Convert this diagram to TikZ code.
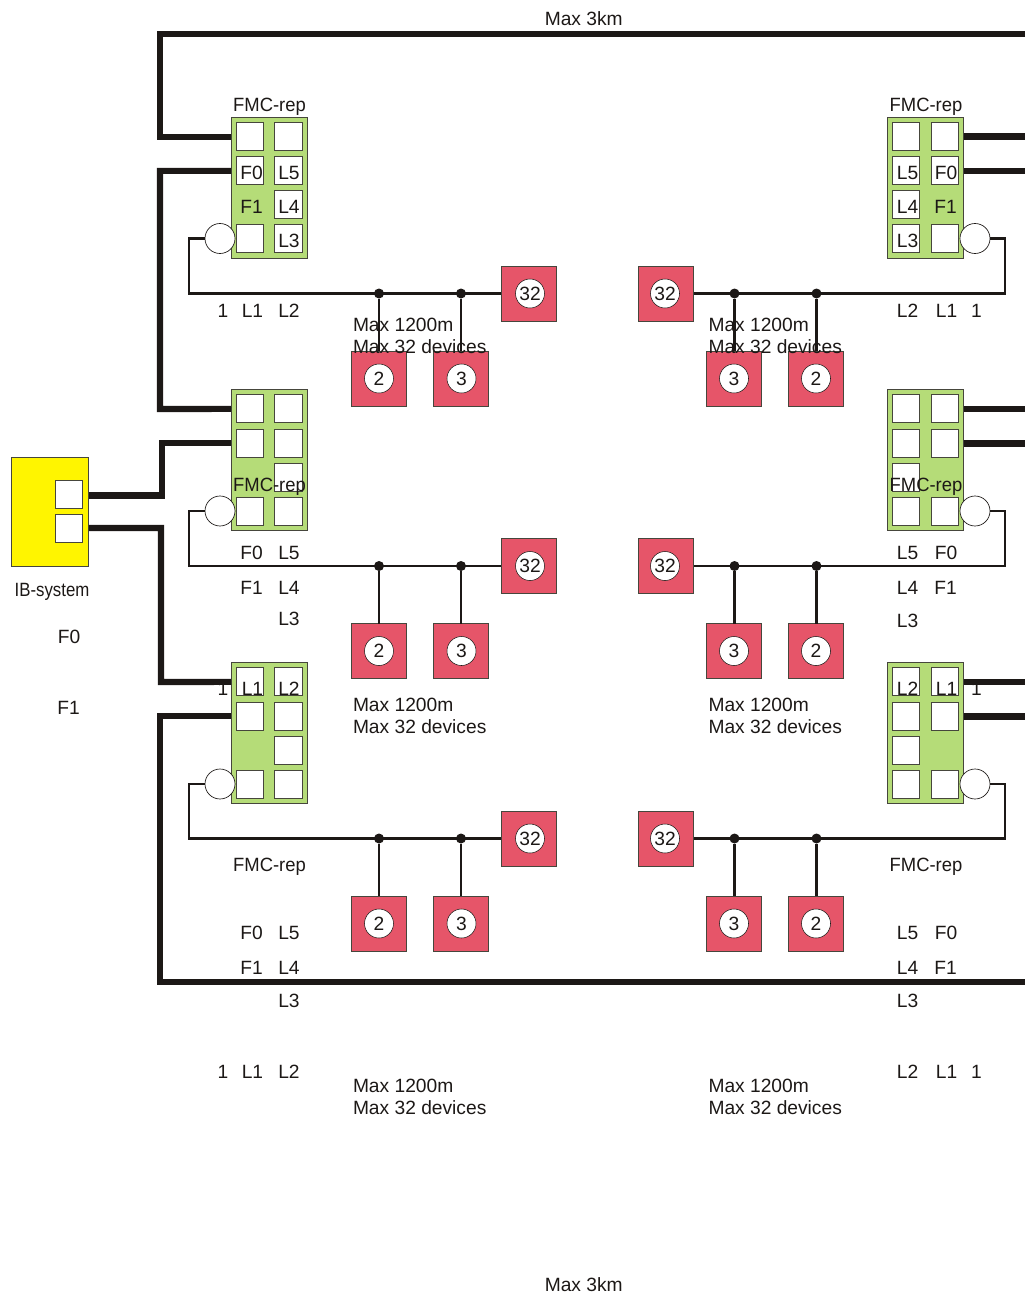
\documentclass[tikz,border=0pt]{standalone}
\usepackage{fontspec}
\setmainfont{Liberation Sans}
\definecolor{ink}{RGB}{28,24,22}
\definecolor{edge}{RGB}{70,70,60}
\definecolor{modgreen}{RGB}{181,220,120}
\definecolor{devred}{RGB}{230,85,105}
\definecolor{ibyellow}{RGB}{255,245,0}
\tikzset{
  module/.style={draw=edge,line width=0.7pt,fill=modgreen,minimum width=76*0.75pt,minimum height=141*0.75pt,inner sep=0,outer sep=0},
  cell/.style={draw=edge,line width=0.7pt,fill=white,minimum width=27.5*0.75pt,minimum height=28*0.75pt,inner sep=0,outer sep=0},
  port/.style={circle,draw=ink,line width=0.5pt,fill=white,minimum size=30*0.75pt,inner sep=0,outer sep=0},
  device/.style={draw=edge,line width=0.6pt,fill=devred,minimum size=55*0.75pt,inner sep=0,outer sep=0},
  devnum/.style={circle,draw=ink,line width=0.4pt,fill=white,minimum size=29*0.75pt,inner sep=0,outer sep=0,text=ink,font=\fontsize{14.4pt}{16pt}\selectfont},
  trunk/.style={draw=ink,line width=4.6pt,line join=miter},
  bus/.style={draw=ink,line width=2pt,line join=miter},
  junction/.style={circle,fill=ink,minimum size=10*0.75pt,inner sep=0,outer sep=0},
  lbl/.style={anchor=base,yshift=-7*0.75pt,inner sep=0,outer sep=0,text=ink,font=\fontsize{14.4pt}{16pt}\selectfont},
  lblleft/.style={lbl,anchor=base west},
}
\begin{document}
\begin{tikzpicture}[x=0.75pt,y=-0.75pt]
\useasboundingbox (0,0) rectangle (1025,1296);
% IB system
\node[draw=edge,line width=0.7pt,fill=ibyellow,minimum width=77.5*0.75pt,minimum height=109*0.75pt,inner sep=0,outer sep=0] (ib) at (50,511.5) {};
\node[cell] (ibF0) at (69,494) {};
\node[cell] (ibF1) at (69,528) {};
% modules
\foreach \n/\mx/\cy/\lx/\rx/\px in {
  a/269/187.5/250/288.5/220, b/269/460/250/288.5/220, c/269/733/250/288.5/220,
  d/925.5/187.5/906/945/975, e/925.5/460/906/945/975, f/925.5/733/906/945/975}{
  \node[module] (\n) at (\mx,\cy) {};
  \node[cell] (\n11) at (\lx,\cy-51.5) {};
  \node[cell] (\n12) at (\rx,\cy-51.5) {};
  \node[cell] (\n21) at (\lx,\cy-17) {};
  \node[cell] (\n22) at (\rx,\cy-17) {};
  \ifdim\mx pt<300pt
    \node[cell] (\n32) at (\rx,\cy+17) {};
  \else
    \node[cell] (\n31) at (\lx,\cy+17) {};
  \fi
  \node[cell] (\n41) at (\lx,\cy+51) {};
  \node[cell] (\n42) at (\rx,\cy+51) {};
  \node[port] (\n p) at (\px,\cy+51) {};
}
% devices: left
\foreach \n/\bus/\low in {a/293.5/378.5, b/566/651, c/838.5/923.5}{
  \node[device] (\n d32) at (528.5,\bus) {};
  \node[devnum] (\n n32) at (530,\bus) {32};
  \node[device] (\n d2) at (378.5,\low) {};
  \node[devnum] (\n n2) at (379,\low) {2};
  \node[device] (\n d3) at (460.5,\low) {};
  \node[devnum] (\n n3) at (461.5,\low) {3};
  \node[junction] (\n j2) at (379,\bus) {};
  \node[junction] (\n j3) at (461,\bus) {};
  \coordinate (\n k) at (189,\bus);
  \draw[bus] (\n p.west) -| (\n k) -- (\n d32.west);
  \draw[bus] (\n j2) -- (\n j2 |- \n d2.north);
  \draw[bus] (\n j3) -- (\n j3 |- \n d3.north);
}
% devices: right
\foreach \n/\bus/\low in {d/293.5/378.5, e/566/651, f/838.5/923.5}{
  \node[device] (\n d32) at (666,\bus) {};
  \node[devnum] (\n n32) at (665,\bus) {32};
  \node[device] (\n d2) at (816,\low) {};
  \node[devnum] (\n n2) at (816,\low) {2};
  \node[device] (\n d3) at (733.5,\low) {};
  \node[devnum] (\n n3) at (734,\low) {3};
  \node[junction] (\n j2) at (816.5,\bus) {};
  \node[junction] (\n j3) at (734.5,\bus) {};
  \coordinate (\n k) at (1005,\bus);
  \draw[bus] (\n p.east) -| (\n k) -- (\n d32.east);
  \draw[bus] (\n j2) -- (\n j2 |- \n d2.north);
  \draw[bus] (\n j3) -- (\n j3 |- \n d3.north);
}
% trunk lines
\coordinate (edgeT) at (1025,34);
\coordinate (edgeB) at (1025,982);
\coordinate (kTL) at (160,34);
\coordinate (kBL) at (160,982);
\draw[trunk] (edgeT) -- (kTL) |- ([yshift=-0.5pt]a.west |- a11);
\draw[trunk] ([yshift=-0.3pt]a.west |- a21) -| (160,409) -- ([yshift=-0.3pt]b.west |- b11);
\draw[trunk] (ib.east |- 0,495.5) -| (162,443) -- (b.west |- b21);
\draw[trunk] (ib.east |- 0,528) -| (161,682) -- ([yshift=-0.3pt]c.west |- c11);
\draw[trunk] (c.west |- c21) -| (kBL) -- (edgeB);
\foreach \m/\c in {d/d11,d/d21,e/e11,e/e21,f/f11,f/f21}{
  \draw[trunk] ([yshift=-0.4pt]\m.east |- \c) -- ([yshift=-0.4pt]1025,0 |- \c);
}
% texts
\node[lbl] (t3a) at (583.7,18) {Max 3km};
\node[lbl] (t3b) at (583.7,1284) {Max 3km};
\node[lbl] (tib) at (52,589) {\scalebox{0.875}[1]{IB-system}};
\node[lbl] (tf0) at (69,636) {F0};
\node[lbl] (tf1) at (68.5,707) {F1};
\foreach \id/\off/\yf/\yo/\yt/\ylt/\yb/\ym/\ymm in {
  p/0/104/172/206/240/310/324/346,
  q/1/484/552/587/618/688/704/726,
  r/2/864/932/967/1000/1071/1085/1107}{
  \node[lbl] (\id Fl) at (269.5,\yf) {\scalebox{0.96}[1]{FMC-rep}};
  \node[lbl] (\id Fr) at (926,\yf) {\scalebox{0.96}[1]{FMC-rep}};
  \node[lbl] (\id a) at (251.7,\yo) {F0};
  \node[lbl] (\id b) at (289,\yo) {L5};
  \node[lbl] (\id c) at (251.5,\yt) {F1};
  \node[lbl] (\id d) at (289,\yt) {L4};
  \node[lbl] (\id e) at (289,\ylt) {L3};
  \node[lbl] (\id f) at (223,\yb) {1};
  \node[lbl] (\id g) at (252.5,\yb) {L1};
  \node[lbl] (\id h) at (289,\yb) {L2};
  \node[lbl] (\id i) at (907.5,\yo) {L5};
  \node[lbl] (\id j) at (946,\yo) {F0};
  \node[lbl] (\id k) at (907.5,\yt) {L4};
  \node[lbl] (\id l) at (945.5,\yt) {F1};
  \node[lbl] (\id m) at (907.5,\ifnum\off=1 620\else\ylt\fi) {L3};
  \node[lbl] (\id n) at (907.5,\yb) {L2};
  \node[lbl] (\id o) at (946.5,\yb) {L1};
  \node[lbl] (\id q) at (976.5,\yb) {1};
  \node[lblleft] (\id r) at (353,\ym) {Max 1200m};
  \node[lblleft] (\id s) at (353,\ymm) {Max 32 devices};
  \node[lblleft] (\id t) at (708.5,\ym) {Max 1200m};
  \node[lblleft] (\id u) at (708.5,\ymm) {Max 32 devices};
}
\end{tikzpicture}
\end{document}
